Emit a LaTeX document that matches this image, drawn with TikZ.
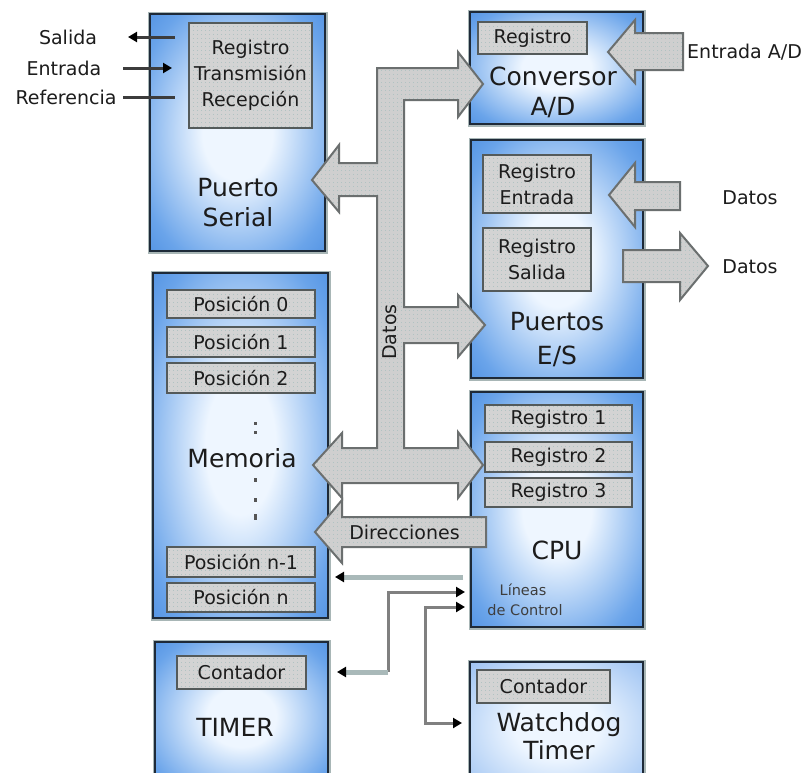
\documentclass[tikz,border=0pt]{standalone}
\usepackage{fontspec}
\setmainfont{DejaVu Sans}
\usetikzlibrary{patterns,arrows.meta}

% palette
\definecolor{boxout}{HTML}{1A6AD2}
\definecolor{boxmid}{HTML}{6AA4EA}
\definecolor{boxin}{HTML}{EEF6FF}
\definecolor{wdout}{HTML}{6C9EE2}
\definecolor{wdmid}{HTML}{A9CAF4}
\definecolor{boxedge}{HTML}{1E2A38}
\definecolor{boxhalo}{HTML}{A8B6B6}
\definecolor{regfill}{HTML}{D3D3D3}
\definecolor{regedge}{HTML}{545A5A}
\definecolor{dotc}{HTML}{B0C2C2}
\definecolor{arrfill}{HTML}{CFCFCF}
\definecolor{arredge}{HTML}{6B6F6F}
\definecolor{ink}{HTML}{1C1C1C}
\definecolor{ctldark}{HTML}{808080}
\definecolor{ctlpale}{HTML}{A9B9B9}
\definecolor{sigline}{HTML}{3C3C3C}

% soft glow inside the unit boxes
\pgfdeclareradialshading{glow}{\pgfpoint{0bp}{0bp}}{color(0bp)=(boxin); color(10bp)=(boxin); color(30bp)=(boxmid); color(52bp)=(boxout); color(75bp)=(boxout)}
\pgfdeclareradialshading{glowlight}{\pgfpoint{0bp}{0bp}}{color(0bp)=(boxin); color(12bp)=(boxin); color(32bp)=(wdmid); color(55bp)=(wdout); color(75bp)=(wdout)}

% fine dotted texture for registers and buses
\pgfdeclarepatternformonly{gdots}{\pgfpoint{-1pt}{-1pt}}{\pgfpoint{5pt}{5pt}}{\pgfpoint{4pt}{4pt}}{\pgfpathrectangle{\pgfpoint{1pt}{1pt}}{\pgfpoint{1.3pt}{1.3pt}}\pgfusepath{fill}}

\newcommand\txtreg{\fontsize{19}{26}\selectfont}
\newcommand\txtbig{\fontsize{25}{30}\selectfont}
\newcommand\txtsmall{\fontsize{14.5}{20}\selectfont}

\tikzset{
  unitbox/.style={preaction={draw=boxhalo, line width=5pt}, shading=glow, draw=boxedge, line width=2.5pt, inner sep=0pt},
  unitboxlight/.style={unitbox, shading=glowlight},
  reg/.style={preaction={fill=regfill}, pattern=gdots, pattern color=dotc, draw=regedge, line width=2pt, inner sep=0pt, font=\txtreg, text=ink, align=center},
  bus/.style={preaction={fill=arrfill}, pattern=gdots, pattern color=dotc, draw=arredge, line width=2pt, line join=miter},
  title/.style={font=\txtbig, text=ink, align=center, inner sep=0pt},
  lbl/.style={font=\txtreg, text=ink, inner sep=0pt},
  note/.style={font=\txtsmall, text=ink!85, inner sep=0pt},
  tipk/.tip={Triangle[length=9pt, width=10pt, color=black]},
  sig/.style={draw=sigline, line width=3pt},
  ctl/.style={draw=ctldark, line width=3pt},
  ctlpale/.style={draw=ctlpale, line width=5pt}
}

\begin{document}
\begin{tikzpicture}[x=1pt, y=-1pt]
\clip (0,0) rectangle (812,772);
\fill[white] (0,0) rectangle (812,772);

% ---------- unit boxes ----------
\node[unitbox, minimum width=175pt, minimum height=237pt] (serial) at (237.5,132.5) {};
\node[unitbox, minimum width=173pt, minimum height=112pt] (adc) at (556.5,68) {};
\node[unitbox, minimum width=172pt, minimum height=238pt] (es) at (557,259) {};
\node[unitbox, minimum width=175pt, minimum height=345pt] (mem) at (240.5,445.5) {};
\node[unitbox, minimum width=172pt, minimum height=235pt] (cpu) at (557,509.5) {};
\node[unitbox, minimum width=173pt, minimum height=150pt] (timer) at (241.5,717) {};
\node[unitboxlight, minimum width=173pt, minimum height=130pt] (wd) at (556.5,727) {};

% ---------- registers ----------
\node[reg, minimum width=123pt, minimum height=105pt] (serialreg) at (250.5,75.5) {Registro\\Transmisión\\Recepción};
\node[reg, minimum width=109pt, minimum height=32pt] (adcreg) at (532.5,38) {Registro};
\node[reg, minimum width=108pt, minimum height=58pt] (esin) at (537,184) {Registro\\Entrada};
\node[reg, minimum width=108pt, minimum height=63pt] (esout) at (537,259.5) {Registro\\Salida};
\node[reg, minimum width=148pt, minimum height=28pt] (pos0) at (241,304) {Posición 0};
\node[reg, minimum width=148pt, minimum height=30pt] (pos1) at (241,342) {Posición 1};
\node[reg, minimum width=148pt, minimum height=30pt] (pos2) at (241,378) {Posición 2};
\node[reg, minimum width=148pt, minimum height=30pt] (posn1) at (241,562) {Posición n-1};
\node[reg, minimum width=148pt, minimum height=29pt] (posn) at (241,597.5) {Posición n};
\node[reg, minimum width=147pt, minimum height=28pt] (reg1) at (558.5,419) {Registro 1};
\node[reg, minimum width=147pt, minimum height=30pt] (reg2) at (558.5,457) {Registro 2};
\node[reg, minimum width=147pt, minimum height=29pt] (reg3) at (558.5,492.5) {Registro 3};
\node[reg, minimum width=129pt, minimum height=33pt] (timerreg) at (241.5,672.5) {Contador};
\node[reg, minimum width=133pt, minimum height=33pt] (wdreg) at (543.5,686.5) {Contador};

% ---------- unit titles ----------
\node[title] (tserial) at (238,203) {Puerto\\Serial};
\node[title] (tadc) at (553,92) {Conversor\\A/D};
\node[title, font={\fontsize{25}{34}\selectfont}] (tes) at (557,340) {Puertos\\E/S};
\node[title] (tmem) at (242,458) {Memoria};
\node[title] (tcpu) at (557,550) {CPU};
\node[note] (tlin) at (523,590) {Líneas};
\node[note] (tctl) at (525,610) {de Control};
\node[title] (ttimer) at (235,727) {TIMER};
\node[title, font={\fontsize{25}{28}\selectfont}] (twd) at (559,736) {Watchdog\\Timer};

% memory ellipsis marks
\foreach \yy/\hh in {422/3,431/3,478/4,498/4,514/6}
  \fill[ink!75] (254,\yy) rectangle ++(2.6,\hh);

% ---------- data bus ----------
\path[bus] (377,68) -- (458,68) -- (458,52) -- (483,84) -- (458,117) -- (458,100)
  -- (404,100) -- (404,307) -- (458,307) -- (458,295) -- (485,325) -- (458,357) -- (458,343)
  -- (404,343) -- (404,448) -- (458,448) -- (458,432) -- (483,465) -- (458,498) -- (458,483)
  -- (342,483) -- (342,498) -- (313,465) -- (342,433) -- (342,448)
  -- (377,448) -- (377,196) -- (339,196) -- (339,212) -- (312,180) -- (339,145) -- (339,163)
  -- (377,163) -- cycle;
\node[lbl, rotate=90] (tdatos) at (390,332) {Datos};

% address bus
\path[bus] (486,517) -- (342,517) -- (342,500) -- (315,532) -- (342,563) -- (342,547) -- (486,547) -- cycle;
\node[lbl] (tdir) at (404.5,532) {Direcciones};

% analog input and port data arrows
\path[bus] (683,33) -- (635,33) -- (635,20) -- (608,52) -- (635,83) -- (635,70) -- (683,70) -- cycle;
\node[lbl, anchor=west] (tadin) at (687,52) {Entrada A/D};
\path[bus] (680,182) -- (635,182) -- (635,163) -- (609,195) -- (635,227) -- (635,210) -- (680,210) -- cycle;
\node[lbl] (tdin) at (750,198) {Datos};
\path[bus] (623,250) -- (680,250) -- (680,233) -- (708,266) -- (680,300) -- (680,282) -- (623,282) -- cycle;
\node[lbl] (tdout) at (750,267) {Datos};

% ---------- serial line signals ----------
\node[lbl] (lsal) at (68,37) {Salida};
\node[lbl] (lent) at (64,68) {Entrada};
\node[lbl] (lref) at (66,97) {Referencia};
\coordinate (salin) at (175,37);
\coordinate (salout) at (128,37);
\coordinate (entin) at (172,68);
\coordinate (entout) at (123,68);
\coordinate (refin) at (175,97);
\coordinate (refout) at (123,97);
\draw[sig, -tipk] (salin) -- (salout);
\draw[sig, -tipk] (entout) -- (entin);
\draw[sig] (refout) -- (refin);

% ---------- control lines ----------
\coordinate (cpuA) at (463,577);
\coordinate (memA) at (335,577);
\draw[ctlpale, -tipk] (cpuA) -- (memA);

\coordinate (cpuB) at (465,592);
\coordinate (bendB) at (388,672);
\coordinate (timB) at (337,672);
\draw[ctl, -tipk] (bendB) -- (388,592) -- (cpuB);
\draw[ctlpale, -tipk] (bendB) -- (timB);

\coordinate (cpuC) at (465,607);
\coordinate (wdC) at (462,723);
\draw[ctl, tipk-tipk] (cpuC) -- (425,607) -- (425,723) -- (wdC);
\end{tikzpicture}
\end{document}
